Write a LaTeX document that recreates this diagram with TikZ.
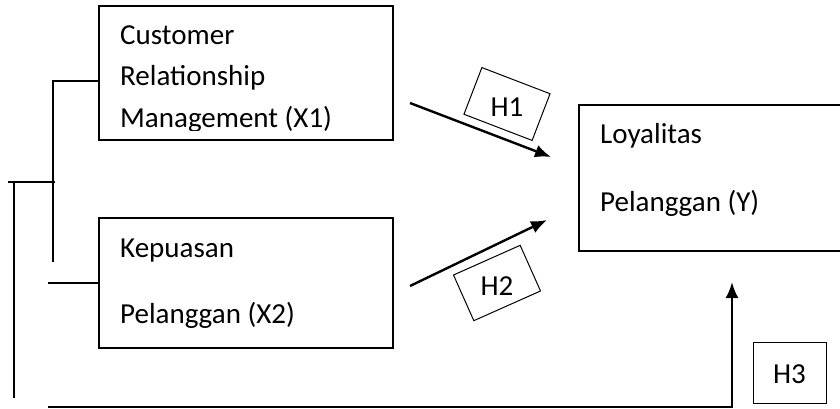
\documentclass[tikz,border=0pt]{standalone}
\usepackage{fontspec}
\setmainfont{Carlito}
\usetikzlibrary{arrows.meta}

\begin{document}
\begin{tikzpicture}[x=1pt,y=-1pt,>={Latex[length=16pt,width=13pt]},
        box/.style={draw,line width=1.6pt,inner sep=0pt},
        tag/.style={draw,line width=1pt,inner sep=0pt,minimum width=73pt,minimum height=50pt},
        txt/.style={anchor=base west,inner sep=0pt,font=\fontsize{29}{33}\selectfont},
        htxt/.style={inner sep=0pt,font=\fontsize{29}{33}\selectfont},
        link/.style={line width=1.7pt},
        arr/.style={->,line width=2.4pt}]
        \useasboundingbox (0,0) rectangle (840,409);
        % boxes
        \node[box,minimum width=294pt,minimum height=134pt] (x1) at (246,73) {};
        \node[box,minimum width=294pt,minimum height=130pt] (x2) at (246,283) {};
        \node[box,minimum width=280pt,minimum height=146pt] (y) at (719,178) {};
        \begin{scope}
        \clip (99,6) rectangle (393,131);
        \node[txt] (x1a) at (120,45) {Customer};
        \node[txt] (x1b) at (120,86) {Relationship};
        \node[txt] (x1c) at (120,128) {Management (X1)};
        \end{scope}
        \node[txt] (x2a) at (120,257) {Kepuasan};
        \node[txt] (x2b) at (120,323) {Pelanggan (X2)};
        \node[txt] (ya) at (600,143) {Loyalitas};
        \node[txt] (yb) at (600,211) {Pelanggan (Y)};
        % hypothesis tags
        \node[tag,rotate=-21] (h1) at (507,104) {};
        \node[htxt] (h1t) at (507,107) {H1};
        \node[tag,rotate=24] (h2) at (497,283) {};
        \node[htxt] (h2t) at (497,286) {H2};
        \node[tag,minimum height=61pt] (h3) at (789.5,372.5) {};
        \node[htxt] (h3t) at (789.5,374) {H3};
        % arrows
        \coordinate (a1s) at (410,103);
        \coordinate (a1e) at (551,157);
        \coordinate (a2s) at (410,286);
        \coordinate (a2e) at (547,220);
        \coordinate (a3s) at (48,407);
        \coordinate (a3e) at (732,282);
        \draw[arr] (a1s) -- (a1e);
        \draw[arr] (a2s) -- (a2e);
        \draw[arr] (a3s) -| (a3e);
        % bracket
        \coordinate (k1) at (53,81);
        \coordinate (k2) at (53,262);
        \coordinate (k3) at (8,182);
        \coordinate (k4) at (55,182);
        \coordinate (k5) at (14,182);
        \coordinate (k6) at (14,398);
        \coordinate (k7) at (48,283);
        \draw[link] (x1.west |- k1) -- (k1) -- (k2);
        \draw[link] (k3) -- (k4);
        \draw[link] (k5) -- (k6);
        \draw[link] (k7) -- (x2.west);
\end{tikzpicture}
\end{document}
